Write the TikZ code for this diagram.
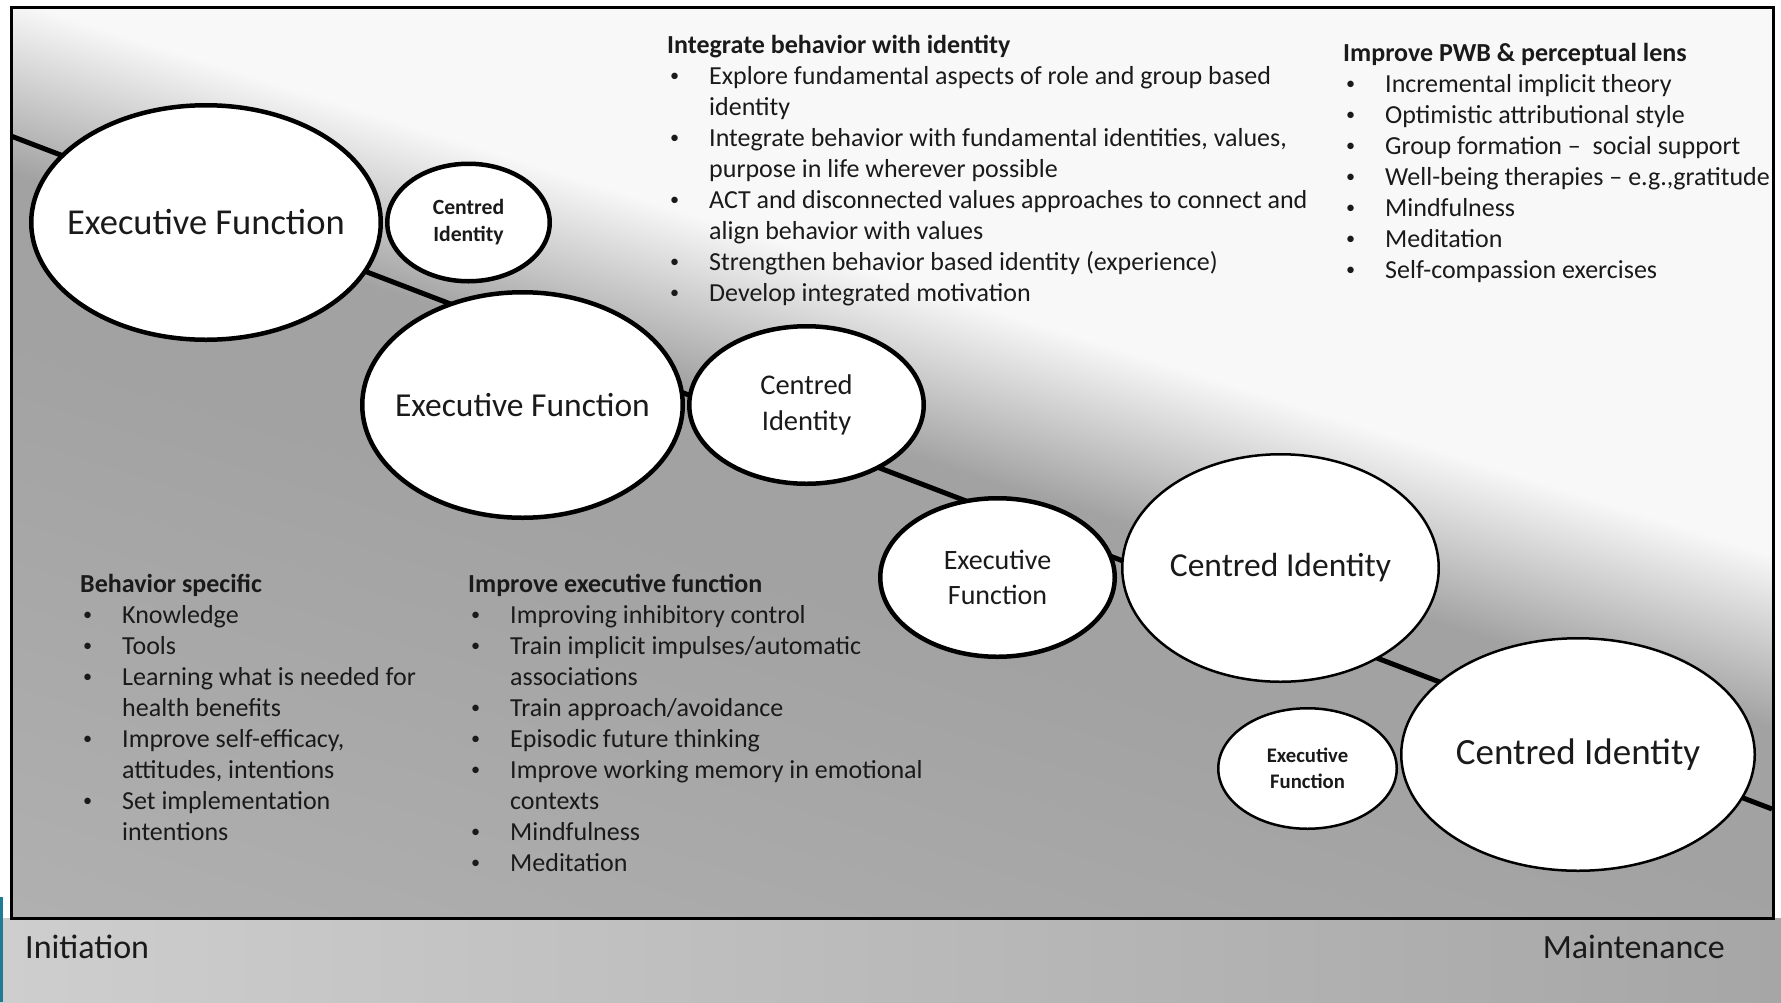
\documentclass[tikz,border=0pt]{standalone}
\usepackage{fontspec}
\usepackage{graphicx}
\setmainfont{Carlito}
\usetikzlibrary{shapes.geometric,positioning}

\definecolor{bgwhite}{HTML}{F8F8F8}
\definecolor{bggray}{HTML}{A2A2A2}
\definecolor{bglight}{HTML}{B2B2B2}
\definecolor{stripleft}{HTML}{CECECE}
\definecolor{stripright}{HTML}{A6A6A6}
\definecolor{slideteal}{HTML}{1F7A93}
\definecolor{inkgray}{HTML}{1A1A1A}

\pgfdeclareverticalshading{framebg}{100bp}{color(0bp)=(bglight); color(28bp)=(bglight); color(46bp)=(bggray); color(50.3bp)=(bggray); color(55bp)=(bgwhite); color(100bp)=(bgwhite)}

\newcommand{\bitem}[1]{\hspace*{3pt}\makebox[39pt][l]{\raisebox{0.1em}{\scalebox{0.7}{\textbullet}}}#1}
\newcommand{\bcont}[1]{\hspace*{42pt}#1}

\begin{document}
\begin{tikzpicture}[x=1pt, y=-1pt,
    bubble/.style 2 args={ellipse, draw=black, fill=white, line width=4.5pt, inner sep=0pt, outer sep=0pt, minimum width=#1, minimum height=#2},
    thinbubble/.style={line width=2.5pt},
    bubtext/.style 2 args={align=center, text=inkgray, font=\fontsize{#1}{#2}\selectfont},
    bubbold/.style 2 args={bubtext={#1}{#2}, font=\fontsize{#1}{#2}\selectfont\bfseries},
    listblock/.style={anchor=north west, align=left, inner sep=0pt, text=inkgray, font=\fontsize{26}{31}\selectfont},
    endlabel/.style={inner sep=0pt, text=inkgray, font=\fontsize{34}{40}\selectfont},
    spine/.style={line width=5pt, black}]
  \useasboundingbox (0,0) rectangle (1781,1002);
  \fill[white] (0,0) rectangle (1781,1002);
  \shade[left color=stripleft, right color=stripright] (0,918) rectangle (1781,1002);
  \fill[slideteal] (0,897) rectangle (3,1002);
  \begin{scope}
    \clip (11,7) rectangle (1773,918);
    \shade[shading=framebg, shading angle=-17.5] (11,-419) rectangle (1773,1343);
  \end{scope}
  \draw[line width=3pt] (11,7) rectangle (1773,918);

  \coordinate (sstart) at (11,136);
  \coordinate (send) at (1772,809);
  \draw[spine] (sstart) -- (send);

  \node[bubble={349.5pt}{234.5pt}, label={[bubtext={36.5}{44}]center:Executive Function}] (ef1) at (206,222.5) {};
  \node[bubble={162.5pt}{117.5pt}, right=6.5pt of ef1, label={[bubbold={21.7}{27}]center:Centred\\Identity}] (ci1) {};
  \node[bubble={320.5pt}{225.5pt}, label={[bubtext={33.5}{40}]center:Executive Function}] (ef2) at (522.5,405) {};
  \node[bubble={234.5pt}{157.5pt}, right=6.5pt of ef2, label={[bubtext={28.5}{36}]center:Centred\\Identity}] (ci2) {};
  \node[bubble={234.5pt}{158.5pt}, label={[bubtext={28}{35}]center:Executive\\Function}] (ef3) at (997.5,577.5) {};
  \node[bubble={316.5pt}{227.5pt}, thinbubble, label={[bubtext={33.5}{40}]center:Centred Identity}] (ci3) at (1280.5,568) {};
  \node[bubble={178.5pt}{120.5pt}, thinbubble, label={[bubbold={20.7}{26}]center:Executive\\Function}] (ef4) at (1307.5,768.5) {};
  \node[bubble={353.5pt}{232.5pt}, thinbubble, label={[bubtext={37}{44}]center:Centred Identity}] (ci4) at (1578,754.5) {};

  \node[listblock] (integrate) at (667,31.3) {\strut\textbf{Integrate behavior with identity}\\
    \bitem{Explore fundamental aspects of role and group based}\\
    \bcont{identity}\\
    \bitem{Integrate behavior with fundamental identities, values,}\\
    \bcont{purpose in life wherever possible}\\
    \bitem{ACT and disconnected values approaches to connect and}\\
    \bcont{align behavior with values}\\
    \bitem{Strengthen behavior based identity (experience)}\\
    \bitem{Develop integrated motivation}};
  \node[listblock] (pwb) at (1343,39.3) {\strut\textbf{Improve PWB \& perceptual lens}\\
    \bitem{Incremental implicit theory}\\
    \bitem{Optimistic attributional style}\\
    \bitem{Group formation –~ social support}\\
    \bitem{Well-being therapies – e.g.,gratitude}\\
    \bitem{Mindfulness}\\
    \bitem{Meditation}\\
    \bitem{Self-compassion exercises}};
  \node[listblock] (behavior) at (80,570.3) {\strut\textbf{Behavior specific}\\
    \bitem{Knowledge}\\
    \bitem{Tools}\\
    \bitem{Learning what is needed for}\\
    \bcont{health benefits}\\
    \bitem{Improve self-efficacy,}\\
    \bcont{attitudes, intentions}\\
    \bitem{Set implementation}\\
    \bcont{intentions}};
  \node[listblock] (execfn) at (468,570.3) {\strut\textbf{Improve executive function}\\
    \bitem{Improving inhibitory control}\\
    \bitem{Train implicit impulses/automatic}\\
    \bcont{associations}\\
    \bitem{Train approach/avoidance}\\
    \bitem{Episodic future thinking}\\
    \bitem{Improve working memory in emotional}\\
    \bcont{contexts}\\
    \bitem{Mindfulness}\\
    \bitem{Meditation}};

  \node[endlabel, anchor=base west] (init) at (25,958) {Initiation};
  \node[endlabel, anchor=base east] (maint) at (1725,958) {Maintenance};
\end{tikzpicture}
\end{document}
